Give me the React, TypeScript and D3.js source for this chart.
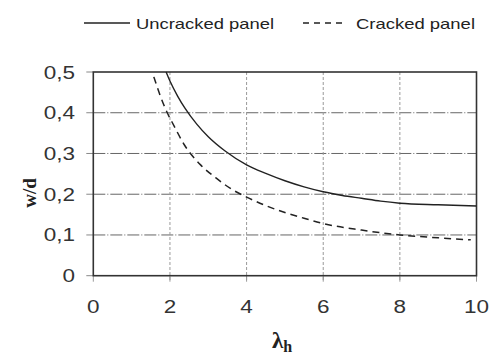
import React from "react";
import * as d3 from "d3";

// λh values and the w/d ratio for each panel state
const uncrackedLambda = [1.9, 2.0, 2.2, 2.4, 2.7, 3.0, 3.44, 4.0, 4.5, 5.0, 5.5, 6.0, 6.5, 7.0, 7.5, 8.0, 9.0, 10.0];
const uncrackedWd = [0.5, 0.478, 0.441, 0.41, 0.372, 0.341, 0.306, 0.272, 0.251, 0.233, 0.218, 0.206, 0.197, 0.19, 0.183, 0.178, 0.174, 0.171];

const crackedLambda = [1.58, 1.75, 1.93, 2.1, 2.37, 2.8, 3.2, 3.65, 4.0, 4.5, 5.0, 5.5, 6.0, 7.0, 8.0, 9.0, 9.85];
const crackedWd = [0.488, 0.441, 0.4, 0.369, 0.322, 0.272, 0.24, 0.21, 0.193, 0.172, 0.155, 0.141, 0.128, 0.112, 0.1, 0.093, 0.088];

const xTicks = [0, 2, 4, 6, 8, 10];
const yTicks = [0, 0.1, 0.2, 0.3, 0.4, 0.5];
const yTickLabels = ["0", "0,1", "0,2", "0,3", "0,4", "0,5"];

const seriesNames = ["Uncracked panel", "Cracked panel"];

const W = 489;
const H = 354;
const SANS = "'Liberation Sans', Arial, sans-serif";
const SERIF = "'Liberation Serif', 'Times New Roman', serif";

export default function App() {
  const x = d3.scaleLinear().domain([0, 10]).range([93.3, 476.5]);
  const y = d3.scaleLinear().domain([0, 0.5]).range([275.7, 72]);

  const line = d3
    .line<[number, number]>()
    .x((d) => x(d[0]))
    .y((d) => y(d[1]))
    .curve(d3.curveMonotoneX);

  const uncracked = uncrackedLambda.map((l, i) => [l, uncrackedWd[i]] as [number, number]);
  const cracked = crackedLambda.map((l, i) => [l, crackedWd[i]] as [number, number]);

  const [x0, x1] = x.range();
  const [y0, y1] = y.range();

  return (
    <svg
      width={W}
      height={H}
      style={{ position: "absolute", left: 0, top: 0, background: "#fff" }}
    >
      {/* legend */}
      <line x1={84} x2={130} y1={23} y2={23} stroke="#222" strokeWidth={1.3} />
      <text x={136} y={29} fontFamily={SANS} fontSize={15} fill="#222" textLength={138} lengthAdjust="spacingAndGlyphs">
        {seriesNames[0]}
      </text>
      <line x1={303} x2={347} y1={23} y2={23} stroke="#222" strokeWidth={1.3} strokeDasharray="6,5" />
      <text x={356} y={29} fontFamily={SANS} fontSize={15} fill="#222" textLength={119} lengthAdjust="spacingAndGlyphs">
        {seriesNames[1]}
      </text>

      {/* horizontal grid */}
      {yTicks
        .filter((t) => t > 0 && t < 0.5)
        .map((t) => (
          <line key={"hg" + t} x1={x0} x2={x1} y1={y(t)} y2={y(t)} stroke="#666" strokeWidth={1} strokeDasharray="12,2,1,2" />
        ))}
      {/* vertical grid */}
      {xTicks
        .filter((t) => t > 0 && t < 10)
        .map((t) => (
          <line key={"vg" + t} x1={x(t)} x2={x(t)} y1={y1} y2={y0 + 6} stroke="#999" strokeWidth={1} strokeDasharray="3,2" />
        ))}

      {/* ticks */}
      {yTicks.map((t) => (
        <line key={"yt" + t} x1={x0 - 7} x2={x0} y1={y(t)} y2={y(t)} stroke="#888" strokeWidth={1} />
      ))}
      {xTicks.map((t) => (
        <line key={"xt" + t} x1={x(t)} x2={x(t)} y1={y0} y2={y0 + 6} stroke="#999" strokeWidth={1} />
      ))}

      {/* frame */}
      <rect x={x0} y={y1} width={x1 - x0} height={y0 - y1} fill="none" stroke="#333" strokeWidth={1.6} />

      {/* curves */}
      <path d={line(uncracked) ?? ""} fill="none" stroke="#222" strokeWidth={1.4} />
      <path d={line(cracked) ?? ""} fill="none" stroke="#222" strokeWidth={1.5} strokeDasharray="7,5" />

      {/* y tick labels */}
      {yTicks.map((t, i) => (
        <g key={"yl" + t} transform={`translate(75,${y(t) + 6.5}) scale(1.25,1)`}>
          <text x={0} y={0} textAnchor="end" fontFamily={SANS} fontSize={18} fill="#333">
            {yTickLabels[i]}
          </text>
        </g>
      ))}

      {/* x tick labels */}
      {xTicks.map((t) => (
        <g key={"xl" + t} transform={`translate(${x(t)},313) scale(1.25,1)`}>
          <text x={0} y={0} textAnchor="middle" fontFamily={SANS} fontSize={18} fill="#333">
            {t}
          </text>
        </g>
      ))}

      {/* axis titles */}
      <text
        transform="translate(36,193) rotate(-90)"
        textAnchor="middle"
        fontFamily={SERIF}
        fontWeight="bold"
        fontSize={19}
        fill="#222"
      >
        w/d
      </text>
      <text x={272} y={348} fontFamily={SERIF} fontWeight="bold" fontSize={23} fill="#222">
        λ
        <tspan fontSize={16} dy={4}>h</tspan>
      </text>
    </svg>
  );
}
